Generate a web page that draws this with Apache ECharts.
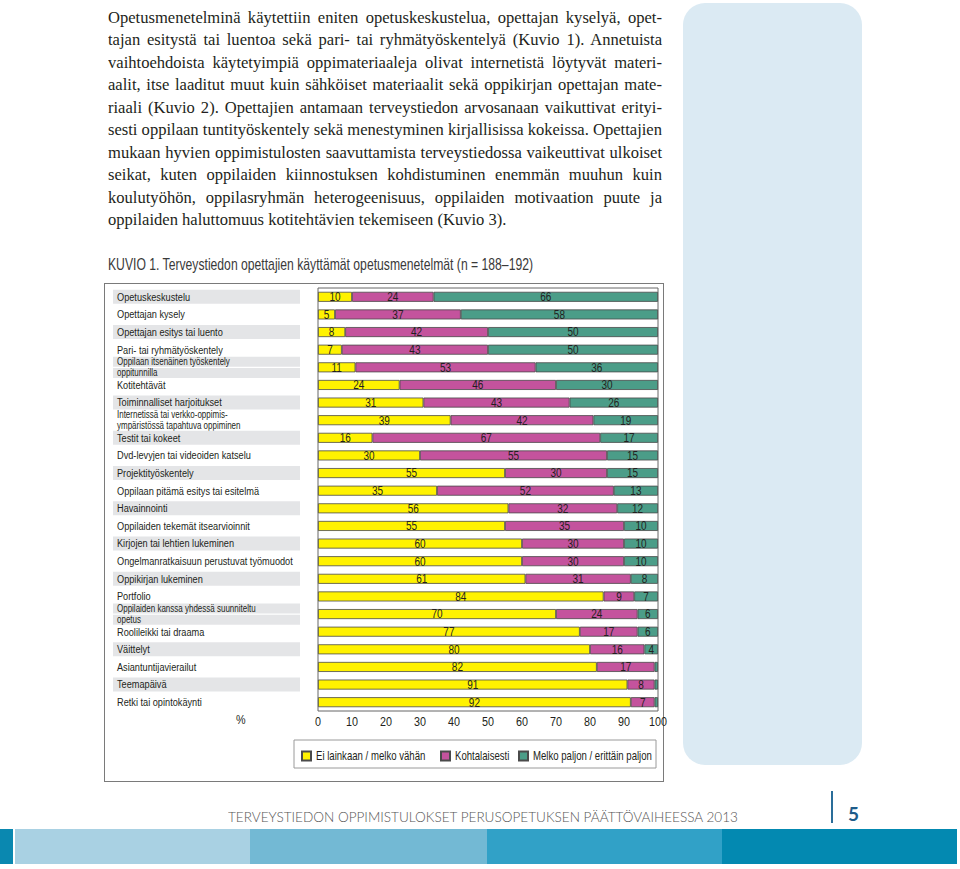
<!DOCTYPE html>
<html><head><meta charset="utf-8">
<script src="https://cdn.jsdelivr.net/npm/echarts@6/dist/echarts.min.js"></script>
<style>
html,body{margin:0;padding:0;background:#fff;}
#page{position:relative;width:960px;height:869px;overflow:hidden;background:#fff;}
#sidebox{position:absolute;left:683px;top:3px;width:179px;height:762px;border-radius:22px;background:#dbeaf3;}
.pl{position:absolute;left:108px;height:22px;line-height:22px;font-family:"Liberation Serif","DejaVu Serif",serif;font-size:17px;color:#231f20;white-space:nowrap;transform-origin:0 50%;}
#title{position:absolute;left:108px;top:255px;line-height:20px;font-family:"Liberation Sans",sans-serif;font-size:17px;color:#3a3a3a;white-space:nowrap;transform-origin:0 50%;}
#frame{position:absolute;left:104px;top:283px;width:558px;height:497px;border:1.5px solid #7a7a7a;}
#chart{position:absolute;left:0;top:0;width:960px;height:869px;}
#foot{position:absolute;left:228px;top:809px;line-height:16px;font-family:Lato,"Open Sans",sans-serif;font-weight:300;font-size:14px;color:#555;white-space:nowrap;transform-origin:0 50%;}
#vline{position:absolute;left:831px;top:791px;width:1.5px;height:32px;background:#2a6d99;}
#pnum{position:absolute;left:848px;top:803px;line-height:22px;font-family:Lato,"Open Sans",sans-serif;font-weight:700;font-size:19px;color:#1d5c8a;}
.band{position:absolute;top:829px;height:35px;}
</style></head><body>
<div id="page">
  <div id="sidebox"></div>
  <div id="para"></div>
  <div id="title">KUVIO 1. Terveystiedon opettajien käyttämät opetusmenetelmät (n = 188–192)</div>
  <div id="frame"></div>
  <div id="chart"></div>
  <div id="foot">TERVEYSTIEDON OPPIMISTULOKSET PERUSOPETUKSEN PÄÄTTÖVAIHEESSA 2013</div>
  <div id="vline"></div>
  <div id="pnum">5</div>
  <div class="band" style="left:0;width:13px;background:#0a88b0"></div>
  <div class="band" style="left:15px;width:235px;background:#a9d1e3"></div>
  <div class="band" style="left:250px;width:237px;background:#73b9d4"></div>
  <div class="band" style="left:487px;width:235px;background:#31a1c7"></div>
  <div class="band" style="left:722px;width:235px;background:#0389b1"></div>
</div>
<script>
// ---- data ----
const categories = [
  'Opetuskeskustelu',
  'Opettajan kysely',
  'Opettajan esitys tai luento',
  'Pari- tai ryhmätyöskentely',
  'Oppilaan itsenäinen työskentely\noppitunnilla',
  'Kotitehtävät',
  'Toiminnalliset harjoitukset',
  'Internetissä tai verkko-oppimis-\nympäristössä tapahtuva oppiminen',
  'Testit tai kokeet',
  'Dvd-levyjen tai videoiden katselu',
  'Projektityöskentely',
  'Oppilaan pitämä esitys tai esitelmä',
  'Havainnointi',
  'Oppilaiden tekemät itsearvioinnit',
  'Kirjojen tai lehtien lukeminen',
  'Ongelmanratkaisuun perustuvat työmuodot',
  'Oppikirjan lukeminen',
  'Portfolio',
  'Oppilaiden kanssa yhdessä suunniteltu\nopetus',
  'Roolileikki tai draama',
  'Väittelyt',
  'Asiantuntijavierailut',
  'Teemapäivä',
  'Retki tai opintokäynti'
];
const seriesNames = ['Ei lainkaan / melko vähän', 'Kohtalaisesti', 'Melko paljon / erittäin paljon'];
const lowValues  = [10, 5, 8, 7, 11, 24, 31, 39, 16, 30, 55, 35, 56, 55, 60, 60, 61, 84, 70, 77, 80, 82, 91, 92];
const midValues  = [24, 37, 42, 43, 53, 46, 43, 42, 67, 55, 30, 52, 32, 35, 30, 30, 31, 9, 24, 17, 16, 17, 8, 7];
const highValues = [66, 58, 50, 50, 36, 30, 26, 19, 17, 15, 15, 13, 12, 10, 10, 10, 8, 7, 6, 6, 4, 1, 1, 1];
const xMin = 0, xMax = 100, xStep = 10;
const paraLines = [
  'Opetusmenetelminä käytettiin eniten opetuskeskustelua, opettajan kyselyä, opet-',
  'tajan esitystä tai luentoa sekä pari- tai ryhmätyöskentelyä (Kuvio 1). Annetuista',
  'vaihtoehdoista käytetyimpiä oppimateriaaleja olivat internetistä löytyvät materi-',
  'aalit, itse laaditut muut kuin sähköiset materiaalit sekä oppikirjan opettajan mate-',
  'riaali (Kuvio 2). Opettajien antamaan terveystiedon arvosanaan vaikuttivat erityi-',
  'sesti oppilaan tuntityöskentely sekä menestyminen kirjallisissa kokeissa. Opettajien',
  'mukaan hyvien oppimistulosten saavuttamista terveystiedossa vaikeuttivat ulkoiset',
  'seikat, kuten oppilaiden kiinnostuksen kohdistuminen enemmän muuhun kuin',
  'koulutyöhön, oppilasryhmän heterogeenisuus, oppilaiden motivaation puute ja',
  'oppilaiden haluttomuus kotitehtävien tekemiseen (Kuvio 3).'
];

// ---- page text ----
const para = document.getElementById('para');
const spans = paraLines.map((t, i) => {
  const d = document.createElement('div');
  d.className = 'pl';
  d.style.top = (7 + i * 22.45) + 'px';
  d.textContent = t;
  para.appendChild(d);
  return d;
});
const target = 554;
const widths = spans.map(s => s.getBoundingClientRect().width);
let sc = 1;
widths.slice(0, -1).forEach(w => { sc = Math.min(sc, target / w); });
spans.forEach((s, i) => {
  const n = (paraLines[i].match(/ /g) || []).length;
  if (i < spans.length - 1) {
    const extra = target / sc - widths[i];
    s.style.wordSpacing = (extra / n) + 'px';
  }
  s.style.transform = 'scaleX(' + sc + ')';
});
function fit(id, w) {
  const el = document.getElementById(id);
  const cw = el.getBoundingClientRect().width;
  el.style.transform = 'scaleX(' + (w / cw) + ')';
}
fit('title', 425);
fit('foot', 510);

// ---- chart ----
const FONT = '"Liberation Sans",Arial,sans-serif';
const S = 0.8; // horizontal condensing of chart text (narrow face)
const colors = ['#fff200', '#c4539d', '#4b9d88'];

const chart = echarts.init(document.getElementById('chart'), null, {renderer: 'svg'});
const mk = (name, data, color) => ({
  name, type: 'bar', stack: 'all', data, barWidth: 10,
  itemStyle: {color, borderColor: '#4a4a4a', borderWidth: 0.8},
  label: {
    show: true, position: 'inside', color: '#231f20', fontSize: 12.5, fontFamily: FONT,
    formatter: p => (p.value >= 2 ? String(p.value) : '')
  },
  emphasis: {disabled: true}
});
const labelBase = {fontSize: 11.5, fontFamily: FONT, color: '#231f20', lineHeight: 11, width: 183, padding: [1, 0, 1, 4]};
const label2 = {fontSize: 10, fontFamily: FONT, color: '#231f20', lineHeight: 11.3, width: 183, padding: [0, 0, 0, 4]};
const legendBase = {
  top: 750, orient: 'horizontal', padding: 0, itemWidth: 9, itemHeight: 9, itemGap: 0, icon: 'rect',
  selectedMode: false, textStyle: {fontSize: 12, fontFamily: FONT, color: '#231f20'}
};
chart.setOption({
  animation: false,
  grid: {left: 318, right: 302, top: 288, bottom: 158, show: true, borderColor: '#666', borderWidth: 1, backgroundColor: 'transparent'},
  xAxis: {
    type: 'value', min: xMin, max: xMax, interval: xStep,
    axisLine: {show: false}, axisTick: {show: false}, splitLine: {show: false},
    axisLabel: {fontSize: 13.5, fontFamily: FONT, color: '#231f20', margin: 4}
  },
  yAxis: {
    type: 'category', data: categories, inverse: true,
    axisLine: {show: false}, axisTick: {show: false},
    axisLabel: {
      align: 'left', margin: 205, interval: 0,
      formatter: (v, i) => {
        const lines = v.split('\n');
        const key = (i % 2 === 0 ? 'g' : 'w') + (lines.length > 1 ? '2' : '');
        return lines.map(l => '{' + key + '|' + l + '}').join('\n');
      },
      rich: {
        g: Object.assign({}, labelBase, {backgroundColor: '#e4e5e7'}),
        w: Object.assign({}, labelBase),
        g2: Object.assign({}, label2, {backgroundColor: '#e4e5e7'}),
        w2: Object.assign({}, label2)
      }
    }
  },
  legend: [
    Object.assign({}, legendBase, {data: [seriesNames[0]], left: 301}),
    Object.assign({}, legendBase, {data: [seriesNames[1]], left: 440}),
    Object.assign({}, legendBase, {data: [seriesNames[2]], left: 518})
  ],
  graphic: [
    {type: 'rect', z: -1, shape: {x: 294, y: 740, width: 362, height: 28},
     style: {fill: '#fff', stroke: '#9a9a9a', lineWidth: 1}},
    {type: 'text', left: 236, top: 713,
     style: {text: '%', fontSize: 13.5, fontFamily: FONT, fill: '#231f20'}}
  ],
  series: [
    mk(seriesNames[0], lowValues, colors[0]),
    mk(seriesNames[1], midValues, colors[1]),
    mk(seriesNames[2], highValues, colors[2])
  ]
});

function condense() {
  const svg = document.querySelector('#chart svg');
  if (!svg) return;
  svg.querySelectorAll('text').forEach(t => {
    const x = parseFloat(t.getAttribute('x') || '0');
    const suffix = ' translate(' + x + ',0) scale(' + S + ',1) translate(' + (-x) + ',0)';
    const tr = t.getAttribute('transform') || '';
    if (!tr.endsWith(suffix)) t.setAttribute('transform', tr + suffix);
  });
}
chart.on('finished', condense);
condense();
setTimeout(condense, 50);
</script>
</body></html>
